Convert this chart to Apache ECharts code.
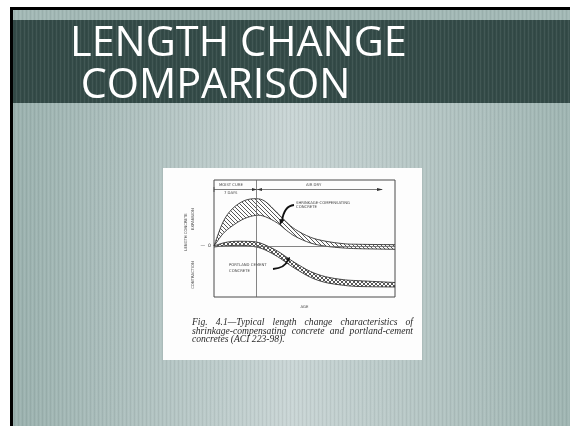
<!DOCTYPE html>
<html>
<head>
<meta charset="utf-8">
<title>Length Change Comparison</title>
<script src="https://cdn.jsdelivr.net/npm/echarts@6/dist/echarts.min.js"></script>
<style>
  html, body { margin: 0; padding: 0; background: #fff; }
  #main { width: 570px; height: 426px; }
</style>
</head>
<body>
<div id="main"></div>
<script>
// age axis (days, moist cure ends at day 7)
const ageDays = [0, 1.5, 3, 5, 7, 8.5, 10.5, 12, 13.5, 16, 18.5, 21.5, 24, 30];
// shrinkage-compensating concrete band
const scUpper = [0, 24, 37, 45.3, 47.3, 44.5, 33, 24, 16.5, 8.7, 4.8, 2.3, 1.7, 1.3];
const scLower = [0, 12.3, 20, 27.3, 30.7, 29.3, 23, 15.7, 9.5, 3, -0.2, -2, -2.7, -3.3];
// portland cement concrete band
const pcUpper = [0, 3, 4.5, 4.7, 4, 1, -5, -11, -17, -25.5, -30.7, -33.7, -34.7, -36.5];
const pcLower = [-1, 0, 0.5, 0.5, -1, -4, -10.5, -16.7, -22.7, -31.3, -36.5, -39.3, -40.5, -41];

const titleLines = ['LENGTH CHANGE', ' COMPARISON'];
const captionLines = [
    'Fig. 4.1\u2014Typical length change characteristics of',
    'shrinkage-compensating concrete and portland-cement',
    'concretes (ACI 223-98).'
];

// hatch patterns for the two bands
function makeHatch(cross) {
    const c = document.createElement('canvas');
    c.width = 4; c.height = 4;
    const ctx = c.getContext('2d');
    ctx.strokeStyle = '#444';
    ctx.lineWidth = 0.9;
    ctx.beginPath();
    ctx.moveTo(0, 0); ctx.lineTo(4, 4);
    ctx.moveTo(-2, 2); ctx.lineTo(2, 6);
    ctx.moveTo(2, -2); ctx.lineTo(6, 2);
    if (cross) {
        ctx.moveTo(4, 0); ctx.lineTo(0, 4);
        ctx.moveTo(6, 2); ctx.lineTo(2, 6);
        ctx.moveTo(2, -2); ctx.lineTo(-2, 2);
    }
    ctx.stroke();
    return c;
}

// faint vertical stripes of the slide texture
function makeStripes() {
    const c = document.createElement('canvas');
    c.width = 4; c.height = 2;
    const ctx = c.getContext('2d');
    ctx.fillStyle = 'rgba(255,255,255,0.07)';
    ctx.fillRect(0, 0, 1, 2);
    ctx.fillStyle = 'rgba(0,0,0,0.05)';
    ctx.fillRect(2, 0, 1, 2);
    return c;
}

// smooth path through pixel points (catmull-rom as cubic beziers)
function curveCmds(p) {
    let d = '';
    for (let i = 0; i < p.length - 1; i++) {
        const p0 = p[i - 1] || p[i], p1 = p[i], p2 = p[i + 1], p3 = p[i + 2] || p[i + 1];
        const c1x = p1[0] + (p2[0] - p0[0]) / 6, c1y = p1[1] + (p2[1] - p0[1]) / 6;
        const c2x = p2[0] - (p3[0] - p1[0]) / 6, c2y = p2[1] - (p3[1] - p1[1]) / 6;
        d += ' C' + c1x + ' ' + c1y + ' ' + c2x + ' ' + c2y + ' ' + p2[0] + ' ' + p2[1];
    }
    return d;
}

function bandRenderer(upper, lower, hatch) {
    return function (params, api) {
        const U = ageDays.map(function (x, i) { return api.coord([x, upper[i]]); });
        const L = ageDays.map(function (x, i) { return api.coord([x, lower[i]]); }).reverse();
        const upD = 'M' + U[0][0] + ' ' + U[0][1] + curveCmds(U);
        const lowD = 'M' + L[0][0] + ' ' + L[0][1] + curveCmds(L);
        const fillD = upD + ' L' + L[0][0] + ' ' + L[0][1] + curveCmds(L) + ' Z';
        const edge = { stroke: '#333', lineWidth: 0.9, fill: null };
        return {
            type: 'group',
            children: [
                { type: 'path', shape: { pathData: fillD }, style: { fill: { image: hatch, repeat: 'repeat' }, stroke: null } },
                { type: 'path', shape: { pathData: upD }, style: edge },
                { type: 'path', shape: { pathData: lowD }, style: edge }
            ]
        };
    };
}

// justified caption words
function captionGraphics() {
    const font = 'italic 9.6px "Liberation Serif"';
    const ctx = document.createElement('canvas').getContext('2d');
    ctx.font = font;
    const left = 192, right = 413, ys = [322, 331, 339.5];
    const out = [];
    captionLines.forEach(function (line, li) {
        const words = line.split(' ');
        const last = li === captionLines.length - 1;
        const total = words.reduce(function (s, w) { return s + ctx.measureText(w).width; }, 0);
        const gap = last ? ctx.measureText(' ').width : (right - left - total) / (words.length - 1);
        let x = left;
        words.forEach(function (w) {
            out.push({
                type: 'text', z: 5, x: x, y: ys[li],
                style: { text: w, font: font, fill: '#2a2a2a', verticalAlign: 'middle' }
            });
            x += ctx.measureText(w).width + gap;
        });
    });
    return out;
}

function tinyText(text, x, y, rotated) {
    return {
        type: 'text', z: 5, x: x, y: y, rotation: rotated ? Math.PI / 2 : 0,
        style: {
            text: text, font: '3.8px "DejaVu Sans"', fill: '#444',
            align: rotated ? 'center' : 'left', verticalAlign: 'middle'
        }
    };
}

function initChart() {
    const chart = echarts.init(document.getElementById('main'), null, { renderer: 'canvas' });
    const stripes = makeStripes();

    const graphic = [
        // page and slide frame
        { type: 'rect', z: -20, shape: { x: 0, y: 0, width: 570, height: 426 }, style: { fill: '#ffffff' } },
        { type: 'rect', z: -19, shape: { x: 10, y: 7, width: 560, height: 419 }, style: { fill: '#000000' } },
        {
            type: 'rect', z: -18, shape: { x: 13, y: 10, width: 557, height: 416 },
            style: {
                fill: {
                    type: 'linear', x: 0, y: 0, x2: 1, y2: 0,
                    colorStops: [
                        { offset: 0, color: '#9ab1ae' },
                        { offset: 0.5, color: '#c9d5d5' },
                        { offset: 1, color: '#9fb5b2' }
                    ]
                }
            }
        },
        { type: 'rect', z: -17, shape: { x: 13, y: 10, width: 557, height: 10 }, style: { fill: '#a2b8b5' } },
        { type: 'rect', z: -17, shape: { x: 13, y: 20, width: 557, height: 83 }, style: { fill: '#344b48' } },
        { type: 'rect', z: -16, shape: { x: 13, y: 10, width: 557, height: 416 }, style: { fill: { image: stripes, repeat: 'repeat' } } },
        // title
        {
            type: 'text', z: 3, x: 69, y: 44, scaleX: 0.985, originX: 69,
            style: { text: titleLines[0], font: '42px "Open Sans"', fill: '#ffffff', verticalAlign: 'middle' }
        },
        {
            type: 'text', z: 3, x: 69, y: 86, scaleX: 0.985, originX: 69,
            style: { text: titleLines[1], font: '42px "Open Sans"', fill: '#ffffff', verticalAlign: 'middle' }
        },
        // figure paper
        { type: 'rect', z: -10, shape: { x: 163, y: 168, width: 259, height: 192 }, style: { fill: '#fdfdfd' } },
        // axis side labels
        tinyText('LENGTH CONCRETE', 186, 232, true),
        tinyText('EXPANSION', 193, 219, true),
        tinyText('CONTRACTION', 193, 275, true),
        // stage and curve labels
        tinyText('MOIST CURE', 219, 185.5),
        tinyText('7 DAYS', 224, 193),
        tinyText('AIR DRY', 306, 185.5),
        tinyText('SHRINKAGE-COMPENSATING', 296, 203),
        tinyText('CONCRETE', 296, 207.5),
        tinyText('PORTLAND CEMENT', 229, 265),
        tinyText('CONCRETE', 229, 271),
        // stage dimension line
        { type: 'line', z: 5, shape: { x1: 214, y1: 189.5, x2: 382, y2: 189.5 }, style: { stroke: '#444', lineWidth: 0.7 } },
        { type: 'polygon', z: 5, shape: { points: [[257, 189.5], [252, 188], [252, 191]] }, style: { fill: '#333' } },
        { type: 'polygon', z: 5, shape: { points: [[257, 189.5], [262, 188], [262, 191]] }, style: { fill: '#333' } },
        { type: 'polygon', z: 5, shape: { points: [[383, 189.5], [377, 188], [377, 191]] }, style: { fill: '#333' } },
        { type: 'line', z: 5, shape: { x1: 214, y1: 187, x2: 214, y2: 192 }, style: { stroke: '#444', lineWidth: 0.7 } },
        // pointer arrows
        { type: 'bezierCurve', z: 5, shape: { x1: 294, y1: 205, x2: 282, y2: 221, cpx1: 284, cpy1: 206 }, style: { stroke: '#111', lineWidth: 1.8, fill: null } },
        { type: 'polygon', z: 5, shape: { points: [[280, 225], [279.5, 219], [284.5, 220]] }, style: { fill: '#111' } },
        { type: 'bezierCurve', z: 5, shape: { x1: 273, y1: 269, x2: 288, y2: 260, cpx1: 285, cpy1: 268 }, style: { stroke: '#111', lineWidth: 1.8, fill: null } },
        { type: 'polygon', z: 5, shape: { points: [[290, 257], [285.5, 259], [289.5, 262]] }, style: { fill: '#111' } }
    ].concat(captionGraphics());

    const option = {
        animation: false,
        backgroundColor: 'transparent',
        graphic: graphic,
        grid: {
            left: 214, top: 180, width: 181, height: 117,
            show: true, borderColor: '#4a4a4a', borderWidth: 1, backgroundColor: 'transparent'
        },
        xAxis: {
            type: 'value', min: 0, max: 30,
            name: 'AGE', nameLocation: 'middle', nameGap: 8,
            nameTextStyle: { fontSize: 3.8, color: '#444', fontFamily: 'DejaVu Sans' },
            axisLine: { show: false }, axisTick: { show: false },
            axisLabel: { show: false }, splitLine: { show: false }
        },
        yAxis: {
            type: 'value', min: -51, max: 66, interval: 51,
            axisLine: { show: false }, axisTick: { show: false }, splitLine: { show: false },
            axisLabel: {
                margin: 3, fontSize: 4.6, color: '#444', fontFamily: 'DejaVu Sans',
                formatter: function (v) { return v === 0 ? '\u2014  0' : ''; }
            }
        },
        series: [
            {
                name: 'Shrinkage-compensating concrete', type: 'custom',
                renderItem: bandRenderer(scUpper, scLower, makeHatch(false)),
                data: [[0, 0]],
                markLine: {
                    silent: true, symbol: ['none', 'none'], label: { show: false },
                    lineStyle: { color: '#666', width: 0.8, type: 'solid' },
                    data: [{ yAxis: 0 }, { xAxis: 7 }]
                }
            },
            {
                name: 'Portland cement concrete', type: 'custom',
                renderItem: bandRenderer(pcUpper, pcLower, makeHatch(true)),
                data: [[0, 0]]
            }
        ]
    };

    chart.setOption(option);
    return chart;
}

document.addEventListener('DOMContentLoaded', function () {
    if (typeof echarts !== 'undefined') {
        initChart();
    } else {
        console.error('ECharts library not loaded');
    }
});
</script>
</body>
</html>
